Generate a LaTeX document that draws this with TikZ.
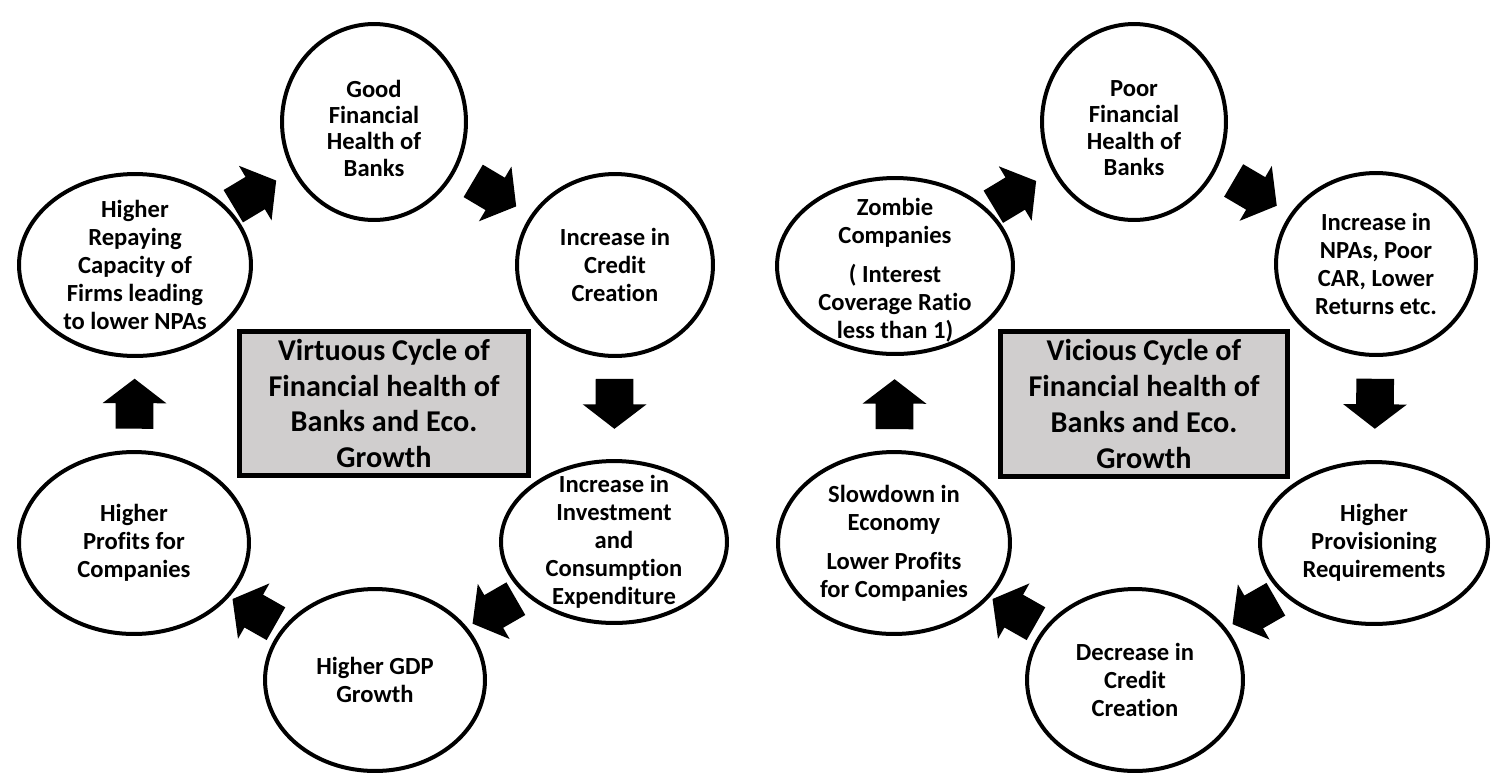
\documentclass[tikz,border=0pt]{standalone}
\usepackage{fontspec}
\setmainfont{Carlito}[Ligatures=NoCommon]
\usetikzlibrary{shapes.geometric,shapes.arrows}
\definecolor{boxgray}{RGB}{208,206,206}
\begin{document}
\begin{tikzpicture}
  [x=0.02cm, y=-0.02cm,
   bubble/.style 2 args = {ellipse, draw, line width=0.08cm, inner sep=0pt, minimum width=#1, minimum height=#2},
   bubtext/.style = {align=center, font=\bfseries\fontsize{14}{16}\selectfont},
   cyclebox/.style = {draw, line width=0.1cm, fill=boxgray, align=center, inner sep=0pt, minimum height=2.9cm, font=\bfseries\fontsize{17.2}{20.4}\selectfont},
   fatarrow/.style = {single arrow, fill, inner xsep=0pt, inner ysep=0.37cm, minimum height=1.0cm, minimum width=1.26cm, single arrow head extend=0.26cm, single arrow tip angle=105, sloped, allow upside down, pos=0.475}]
  \useasboundingbox (0,0) rectangle (1500,782);
  \node[bubble={4.64cm}{3.64cm}, label={[bubtext]center:{Higher\\Repaying\\Capacity of\\Firms leading\\to lower NPAs}}] (repay) at (135,265) {};
  \node[bubble={3.68cm}{3.92cm}, label={[bubtext, font=\bfseries\fontsize{14}{15}\selectfont, yshift=-0.12cm]center:{Good\\Financial\\Health of\\Banks}}] (good) at (374,122) {};
  \node[bubble={3.92cm}{3.64cm}, label={[bubtext]center:{Increase in\\Credit\\Creation}}] (credit) at (615,265) {};
  \node[bubble={4.52cm}{3.24cm}, label={[bubtext]center:{Increase in\\Investment\\and\\Consumption\\Expenditure}}] (invest) at (614,542) {};
  \node[bubble={4.40cm}{3.64cm}, label={[bubtext]center:{Higher GDP\\Growth}}] (gdp) at (375,680) {};
  \node[bubble={4.60cm}{3.64cm}, label={[bubtext]center:{Higher\\Profits for\\Companies}}] (profit) at (134,543) {};
  \node[cyclebox, minimum width=5.78cm] (virtuous) at (384,403.5) {Virtuous Cycle of\\Financial health of\\Banks and Eco.\\Growth};
  \node[bubble={4.72cm}{3.52cm}, label={[bubtext, yshift=-0.08cm]center:{Zombie\\Companies\\[6pt]( Interest\\Coverage Ratio\\less than 1)}}] (zombie) at (895,266) {};
  \node[bubble={3.68cm}{3.92cm}, label={[bubtext, font=\bfseries\fontsize{14}{15}\selectfont, yshift=-0.12cm]center:{Poor\\Financial\\Health of\\Banks}}] (poor) at (1134,122) {};
  \node[bubble={4.00cm}{3.64cm}, label={[bubtext]center:{Increase in\\NPAs, Poor\\CAR, Lower\\Returns etc.}}] (npa) at (1376,264) {};
  \node[bubble={4.56cm}{3.24cm}, label={[bubtext]center:{Higher\\Provisioning\\Requirements}}] (prov) at (1374,543) {};
  \node[bubble={4.32cm}{3.64cm}, label={[bubtext]center:{Decrease in\\Credit\\Creation}}] (dec) at (1135,680) {};
  \node[bubble={4.64cm}{3.64cm}, label={[bubtext]center:{Slowdown in\\Economy\\[6pt]Lower Profits\\for Companies}}] (slow) at (894,543) {};
  \node[cyclebox, minimum width=5.74cm] (vicious) at (1144,404) {Vicious Cycle of\\Financial health of\\Banks and Eco.\\Growth};
  \path (repay.center) -- node[fatarrow] {} (good.center);
  \path (good.center) -- node[fatarrow] {} (credit.center);
  \path (credit.center) -- node[fatarrow] {} (invest.center);
  \path (invest.center) -- node[fatarrow] {} (gdp.center);
  \path (gdp.center) -- node[fatarrow] {} (profit.center);
  \path (profit.center) -- node[fatarrow] {} (repay.center);
  \path (zombie.center) -- node[fatarrow] {} (poor.center);
  \path (poor.center) -- node[fatarrow] {} (npa.center);
  \path (npa.center) -- node[fatarrow] {} (prov.center);
  \path (prov.center) -- node[fatarrow] {} (dec.center);
  \path (dec.center) -- node[fatarrow] {} (slow.center);
  \path (slow.center) -- node[fatarrow] {} (zombie.center);
\end{tikzpicture}
\end{document}
